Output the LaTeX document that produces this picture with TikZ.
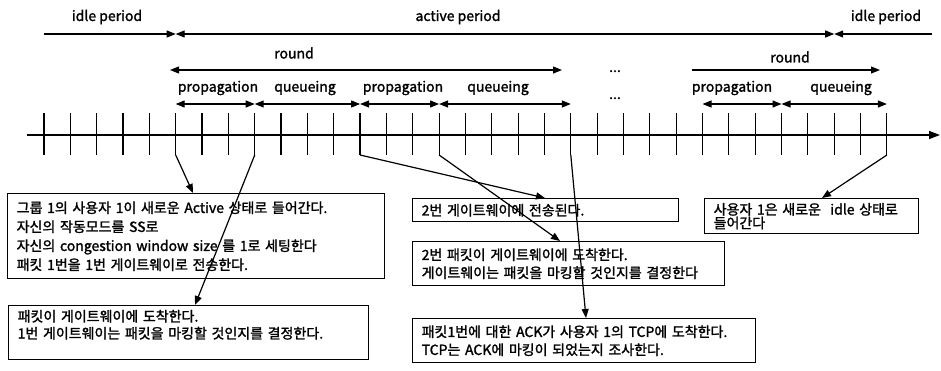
\documentclass[tikz,border=0pt]{standalone}
\usepackage{fontspec}
\newfontfamily\krfont{Noto Sans CJK KR}[FakeBold=1.6]
\usetikzlibrary{arrows.meta}

\begin{document}
\begin{tikzpicture}
  [x=1pt,y=-1pt,
   font=\krfont\fontsize{14}{18}\selectfont,
   >={Triangle[length=9pt,width=7pt]},
   lbl/.style={inner sep=0pt},
   span/.style={line width=1.1pt},
   tickline/.style={line width=1.2pt},
   axis/.style={line width=1.3pt,->,>={Triangle[length=11pt,width=8pt]}},
   box/.style={draw,line width=1.4pt,anchor=north west,align=left,inner xsep=9pt,inner ysep=3pt},
   link/.style={->,line width=1.2pt},]

  \useasboundingbox (0,0) rectangle (941,370);

  \node[lbl] (idleA) at (107,17) {idle period};
  \node[lbl] (active) at (458,17) {active period};
  \node[lbl] (idleB) at (886,17) {idle period};
  \node[lbl] (roundA) at (294,53) {round};
  \node[lbl] (roundB) at (790,57) {round};
  \node[lbl] (propA) at (218,88) {propagation};
  \node[lbl] (queA) at (305,88) {queueing};
  \node[lbl] (propB) at (403,88) {propagation};
  \node[lbl] (queB) at (498,88) {queueing};
  \node[lbl] (propC) at (732,88) {propagation};
  \node[lbl] (queC) at (841,88) {queueing};
  \node[lbl,anchor=base] (dotsA) at (615,72) {...};
  \node[lbl,anchor=base] (dotsB) at (615,99) {...};

  \draw[axis] (27,135) -- (940,135);
  \foreach \i in {0,...,32}
    \draw[tickline] (44+26.34*\i,113) -- (44+26.34*\i,155) coordinate (t\i);

  \draw[span,->] (t0|-0,34) -- (t5|-0,34);
  \draw[span,<->] (t5|-0,34) -- (t30|-0,34);
  \draw[span,<-] (t30|-0,34) -- (932,34);
  \draw[span,<->] (170,70) -- (562,70);
  \draw[span,->] (692,70) -- (880,70);
  \draw[span,<->] (t5|-0,104) -- (t8|-0,104);
  \draw[span,<->] (t8|-0,104) -- (t12|-0,104);
  \draw[span,<->] (t12|-0,104) -- (t15|-0,104);
  \draw[span,<->] (t15|-0,104) -- (t20|-0,104);
  \draw[span,<->] (t25|-0,104) -- (t28|-0,104);
  \draw[span,<->] (t28|-0,104) -- (t32|-0,104);

  \node[box,text width=359pt,minimum height=85pt,font=\krfont\fontsize{14}{19}\selectfont] (b1) at (7,193)
    {그룹 1의 사용자 1이 새로운 Active 상태로 들어간다.\\자신의 작동모드를 SS로\\자신의 congestion window size 를 1로 세팅한다\\패킷 1번을 1번 게이트웨이로 전송한다.};
  \node[box,text width=342pt,minimum height=54pt,font=\krfont\fontsize{14}{17}\selectfont] (b2) at (8,305)
    {패킷이 게이트웨이에 도착한다.\\1번 게이트웨이는 패킷을 마킹할 것인지를 결정한다.\\\mbox{}};
  \node[box,text width=248pt,minimum height=23pt] (b3) at (412,198)
    {2번 게이트웨이에 전송된다.};
  \node[box,text width=196pt,minimum height=35pt,font=\krfont\fontsize{14}{12.5}\selectfont] (b4) at (704,198)
    {사용자 1은 새로운 \ idle 상태로\\들어간다};
  \node[box,text width=294pt,minimum height=44pt] (b5) at (412,241)
    {2번 패킷이 게이트웨이에 도착한다.\\게이트웨이는 패킷을 마킹할 것인지를 결정한다};
  \node[box,text width=325pt,minimum height=44pt] (b6) at (412,318)
    {패킷1번에 대한 ACK가 사용자 1의 TCP에 도착한다.\\TCP는 ACK에 마킹이 되었는지 조사한다.};

  \draw[link] (t5) -- ([xshift=186pt]b1.north west);
  \draw[link] (t8) -- ([xshift=187pt]b2.north west);
  \draw[link] (t12) -- ([xshift=133pt]b3.north west);
  \draw[link] (t15) -- ([xshift=148pt]b5.north west);
  \draw[link] (t20) -- ([xshift=174pt]b6.north west);
  \draw[link] (t32) -- ([xshift=118pt]b4.north west);

\end{tikzpicture}
\end{document}
